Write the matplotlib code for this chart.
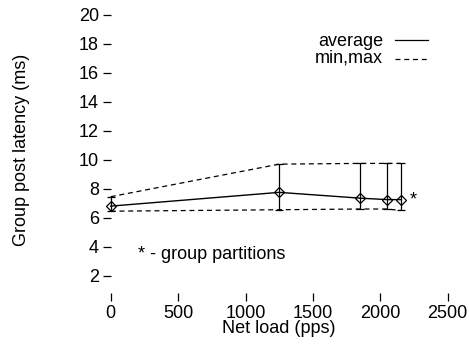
import matplotlib
matplotlib.use("Agg")
import matplotlib.pyplot as plt
import numpy as np

plt.rcParams['font.family'] = ['Liberation Sans', 'DejaVu Sans']

# Data
load = [0, 1250, 1850, 2050, 2150]
avg = [6.8, 7.75, 7.35, 7.25, 7.25]
lat_max = [7.45, 9.7, 9.75, 9.75, 9.75]
lat_min = [6.45, 6.55, 6.6, 6.6, 6.5]
xticks = [0, 500, 1000, 1500, 2000, 2500]
yticks = [2, 4, 6, 8, 10, 12, 14, 16, 18, 20]

FS = 13
W, H = 469, 345
fig = plt.figure(figsize=(W / 100, H / 100), dpi=100)
# axes placed in pixel terms
left, right, top, bottom = 110.7, 447.7, 6.3, 293
ax = fig.add_axes([left / W, (H - bottom) / H, (right - left) / W, (bottom - top) / H])

lo = np.array(avg) - np.array(lat_min)
hi = np.array(lat_max) - np.array(avg)
ax.errorbar(load, avg, yerr=[lo, hi], fmt='-', color='black', lw=1.0,
            elinewidth=0.9, capsize=3, capthick=0.9, clip_on=False,
            marker='D', markersize=5, markerfacecolor='none',
            markeredgecolor='black', markeredgewidth=0.9, label='average', zorder=3)
ax.plot(load, lat_max, '--', color='black', lw=0.9, dashes=(4, 3), clip_on=False,
        label='min,max')
ax.plot(load, lat_min, '--', color='black', lw=0.9, dashes=(4, 3), clip_on=False)

ax.set_xlim(0, 2500)
ax.set_ylim(0.8, 20.6)
ax.set_xticks(xticks)
ax.set_yticks(yticks)
for s in ax.spines.values():
    s.set_visible(False)
ax.tick_params(axis='both', direction='out', length=5.5, width=0.9, labelsize=FS,
               color='black')
ax.tick_params(axis='x', pad=3)
ax.tick_params(axis='y', pad=3)

ax.set_xlabel('Net load (pps)', fontsize=FS, labelpad=-1)
ax.set_ylabel('Group post latency (ms)', fontsize=FS, labelpad=35)

ax.text(load[-1] + 70, avg[-1], '*', fontsize=FS, va='center', ha='left')
ax.text(200, 3.45, '* - group partitions', fontsize=FS, va='center', ha='left')

# hand-made legend
fig.text(383 / W, 1 - 41 / H, 'average', fontsize=FS, ha='right', va='center')
fig.text(383 / W, 1 - 58 / H, 'min,max', fontsize=FS, ha='right', va='center')
fig.add_artist(plt.Line2D([395 / W, 428 / W], [1 - 40 / H] * 2, color='black', lw=0.9))
fig.add_artist(plt.Line2D([395 / W, 428 / W], [1 - 59 / H] * 2, color='black', lw=0.9,
                          ls='--', dashes=(4, 3)))

fig.savefig('out.png', dpi=100)
